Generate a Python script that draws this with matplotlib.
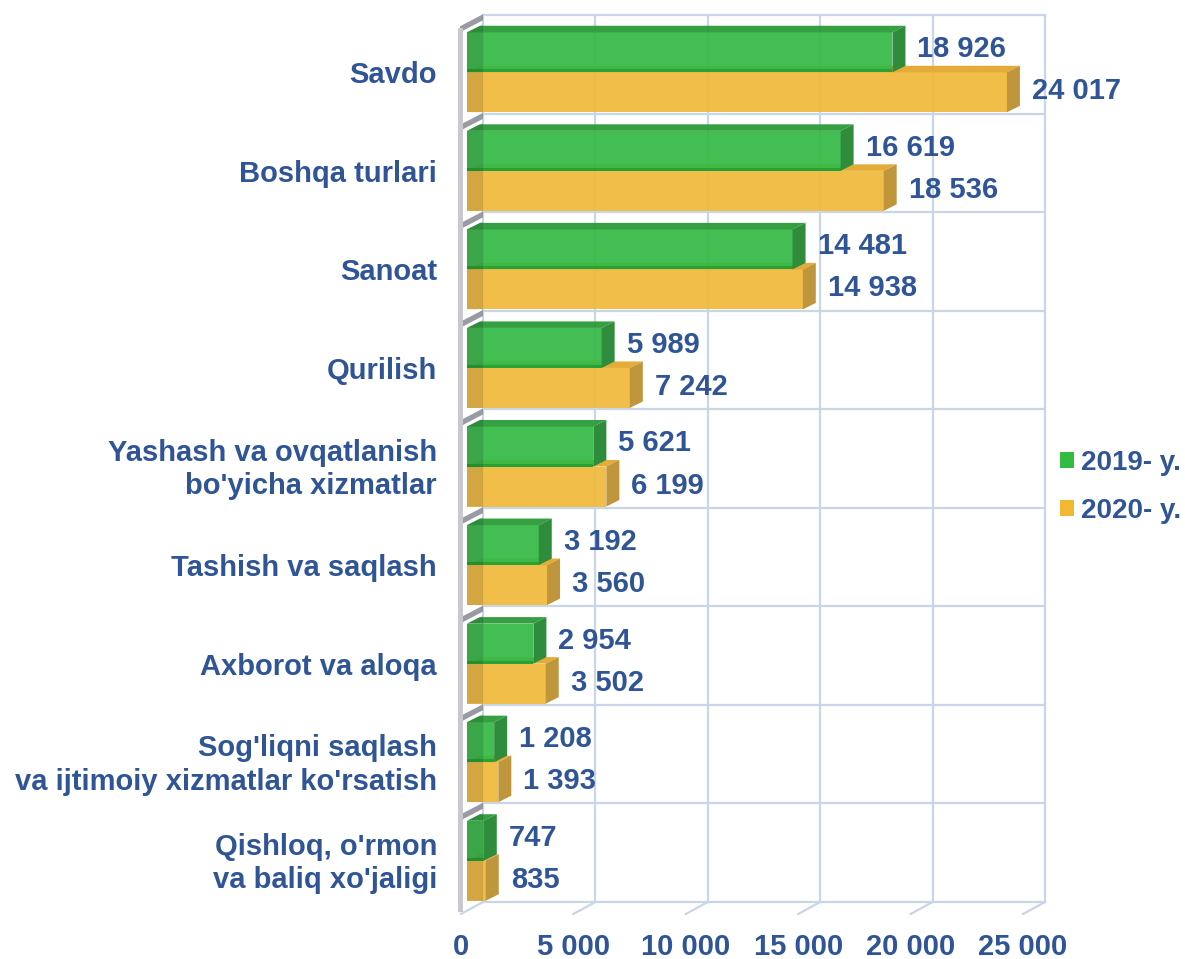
import numpy as np
import matplotlib
matplotlib.use("Agg")
import matplotlib.pyplot as plt
from matplotlib.patches import Polygon, Patch

plt.rcParams['font.family'] = ['Liberation Sans', 'DejaVu Sans']
plt.rcParams['font.weight'] = 'bold'

categories = [
    "Savdo",
    "Boshqa turlari",
    "Sanoat",
    "Qurilish",
    "Yashash va ovqatlanish\nbo'yicha xizmatlar",
    "Tashish va saqlash",
    "Axborot va aloqa",
    "Sog'liqni saqlash\nva ijtimoiy xizmatlar ko'rsatish",
    "Qishloq, o'rmon\nva baliq xo'jaligi",
]
values_2019 = [18926, 16619, 14481, 5989, 5621, 3192, 2954, 1208, 747]
values_2020 = [24017, 18536, 14938, 7242, 6199, 3560, 3502, 1393, 835]
series_names = ["2019- y.", "2020- y."]
x_ticks = [0, 5000, 10000, 15000, 20000, 25000]
x_tick_labels = ["0", "5 000", "10 000", "15 000", "20 000", "25 000"]

TEXT = "#2F5597"
GRID = "#C9D6E8"
FS = 21
GREEN = dict(front="#34B946", top="#2A9A38", side="#2E8C3C", edge="#27A236")
ORANGE = dict(front="#F0B93C", top="#E3A72C", side="#C0963C", edge=None)

W, H = 1185, 959
fig = plt.figure(figsize=(W / 100, H / 100), dpi=100)
# axes = front plane of the bars
ax_l, ax_r, ax_t, ax_b = 467, 1029, 23, 910
ax = fig.add_axes([ax_l / W, 1 - ax_b / H, (ax_r - ax_l) / W, (ax_b - ax_t) / H])
xmax = x_ticks[-1]
n = len(categories)
ax.set_xlim(0, xmax)
ax.set_ylim(n - 0.5, -0.5)
ax.set_axis_off()

sx = xmax / (ax_r - ax_l)      # data units per pixel
sy = n / (ax_b - ax_t)


def sh(x, y, dx, dy):
    """shift a data point by (dx, dy) pixels, dy measured downwards"""
    return (x + dx * sx, y + dy * sy)


BACK = (16, -8)     # back wall offset
DEPTH = (13, -6.5)  # bar depth
FLOOR = (-6, 4)     # floor front edge

# back wall grid + floor lines
ytop, ybot = -0.5, n - 0.5
for v in x_ticks:
    p0, p1 = sh(v, ytop, *BACK), sh(v, ybot, *BACK)
    ax.plot([p0[0], p1[0]], [p0[1], p1[1]], color=GRID, lw=1.6, zorder=1, clip_on=False)
    f0, f1 = sh(v, ybot, *FLOOR), sh(v, ybot, *BACK)
    ax.plot([f0[0], f1[0]], [f0[1], f1[1]], color=GRID, lw=1.6, zorder=1, clip_on=False)
for k in range(n + 1):
    y = k - 0.5
    p0, p1 = sh(0, y, *BACK), sh(xmax, y, *BACK)
    ax.plot([p0[0], p1[0]], [p0[1], p1[1]], color=GRID, lw=1.6, zorder=1, clip_on=False)

bh = 0.406


def bar3d(v, y0, y1, col, z):
    # front face
    ax.barh((y0 + y1) / 2, v, height=y1 - y0, color=col["front"], alpha=0.93,
            zorder=z, linewidth=0)
    if col["edge"]:
        ax.barh(y1 - 1.5 * sy, v, height=3 * sy, color=col["edge"], zorder=z, linewidth=0)
    top = [(0, y0), (v, y0), sh(v, y0, *DEPTH), sh(0, y0, *DEPTH)]
    ax.add_patch(Polygon(top, closed=True, facecolor=col["top"], edgecolor='none',
                         zorder=z, alpha=0.95, clip_on=False))
    side = [(v, y0), sh(v, y0, *DEPTH), sh(v, y1, *DEPTH), (v, y1)]
    ax.add_patch(Polygon(side, closed=True, facecolor=col["side"], edgecolor='none',
                         zorder=z, clip_on=False))


for i in range(n):
    bar3d(values_2020[i], i, i + bh, ORANGE, 3)
    bar3d(values_2019[i], i - bh, i, GREEN, 4)
    # darker strip along the left wall
    shade = [(0, i - bh), sh(0, i - bh, 16, -8), sh(0, i + bh, 16, 0), (0, i + bh)]
    ax.add_patch(Polygon(shade, closed=True, facecolor='black', alpha=0.12,
                         edgecolor='none', zorder=5, clip_on=False))
    cap = [sh(0, i - bh, -7, -6), sh(0, i - bh, 16, -18),
           sh(0, i - bh, 16, -12), sh(0, i - bh, -7, 0)]
    ax.add_patch(Polygon(cap, closed=True, facecolor='#80828C', alpha=0.8,
                         edgecolor='none', zorder=5, clip_on=False))

    # value labels
    ax.annotate(f"{values_2019[i]:,}".replace(",", " "), (values_2019[i], i - bh / 2),
                xytext=(25, 3), textcoords='offset pixels', ha='left', va='center',
                fontsize=FS, color=TEXT, fontweight='bold', zorder=6)
    ax.annotate(f"{values_2020[i]:,}".replace(",", " "), (values_2020[i], i + bh / 2),
                xytext=(25, 1), textcoords='offset pixels', ha='left', va='center',
                fontsize=FS, color=TEXT, fontweight='bold', zorder=6)
    # category labels
    ax.annotate(categories[i], (0, i), xytext=(-30, -3), textcoords='offset pixels',
                ha='right', va='center', multialignment='right', linespacing=1.25,
                fontsize=FS, color=TEXT, fontweight='bold')

# left wall front edge
edge = [sh(0, ytop, -9, 5), sh(0, ytop, -4, 5), sh(0, ybot, -4, 2), sh(0, ybot, -9, 2)]
ax.add_patch(Polygon(edge, closed=True, facecolor='#C8C9CF', edgecolor='none',
                     zorder=6, clip_on=False))

# x tick labels along the floor front edge
for v, lab in zip(x_ticks, x_tick_labels):
    ax.annotate(lab, (v, ybot), xytext=(-6, -37), textcoords='offset pixels',
                ha='center', va='center', fontsize=FS, color=TEXT, fontweight='bold')

handles = [Patch(facecolor="#33BB44"), Patch(facecolor="#F2B833")]
leg = fig.legend(handles, series_names, loc='center left',
                 bbox_to_anchor=(1060 / W, 1 - 487 / H), frameon=False,
                 borderpad=0, borderaxespad=0,
                 handlelength=0.5, handleheight=0.5, handletextpad=0.25,
                 labelspacing=0.8, prop=dict(size=20, weight='bold'))
for t in leg.get_texts():
    t.set_color(TEXT)

fig.savefig("out.png", dpi=100)
